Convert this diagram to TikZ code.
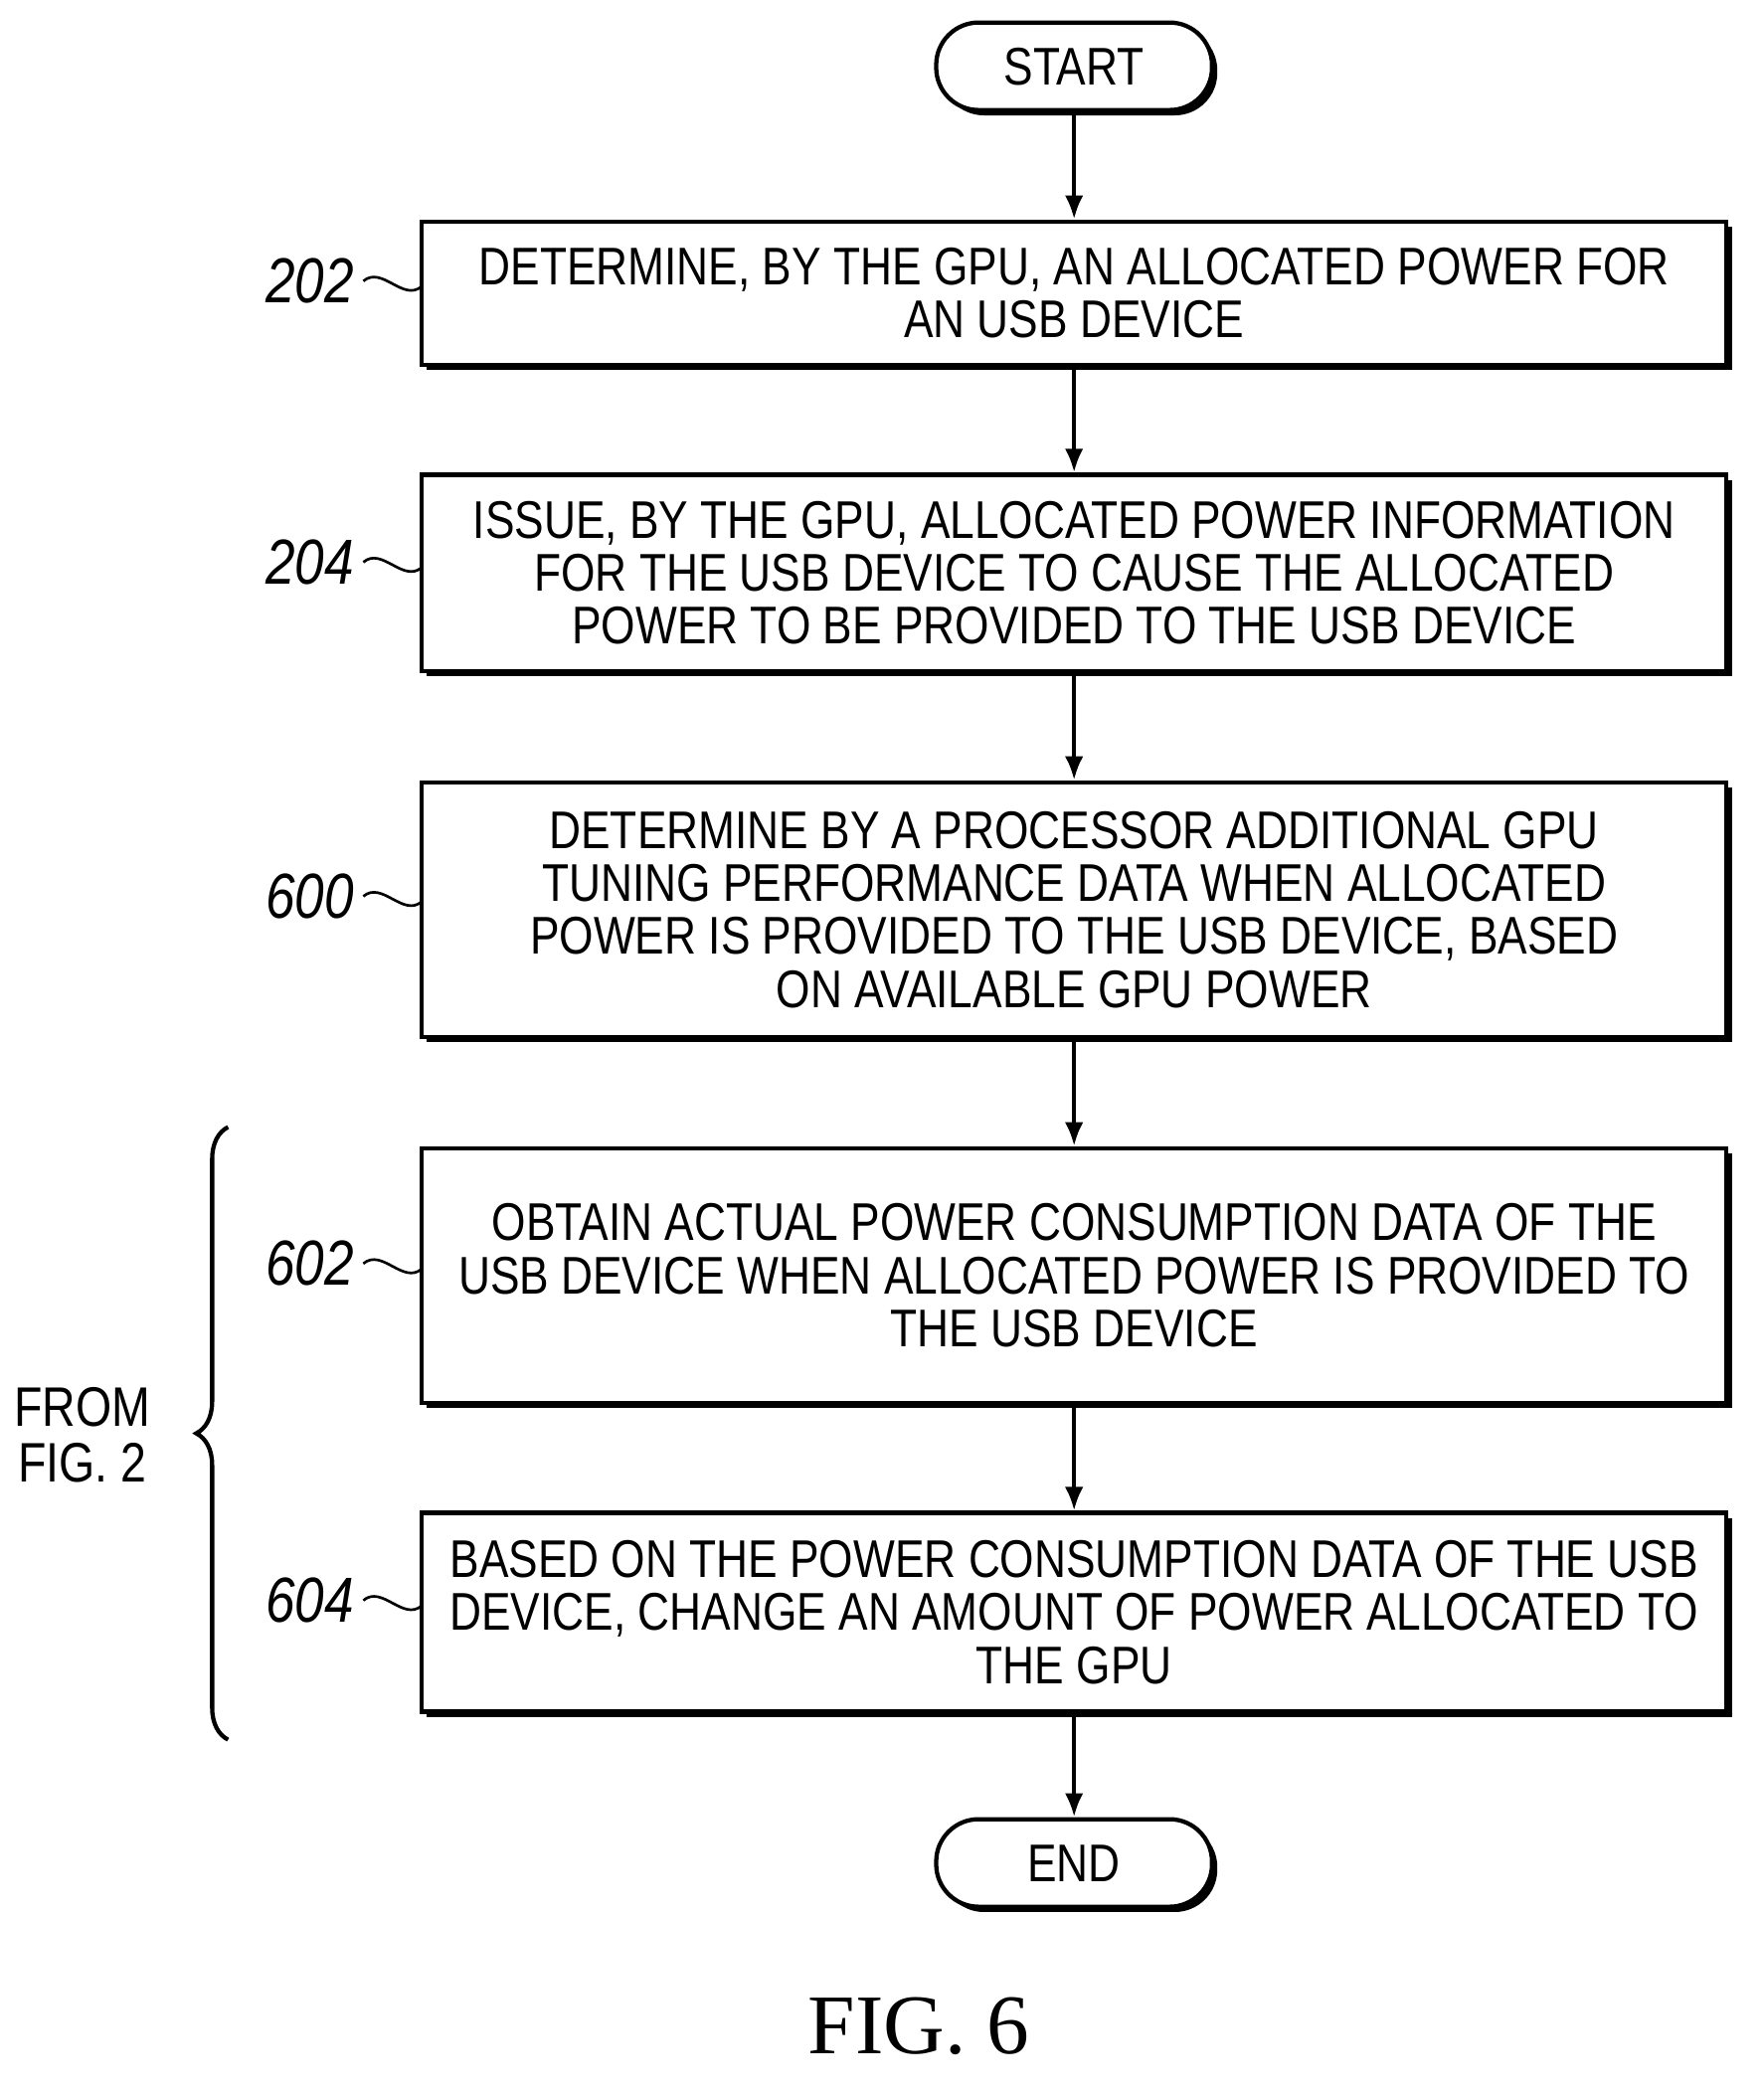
\documentclass[tikz,border=0pt]{standalone}
\usepackage{fontspec}
\setmainfont{Liberation Sans}[FakeStretch=0.83]
\newfontfamily\figfont{Liberation Serif}
\usetikzlibrary{shadows}
\usetikzlibrary{arrows.meta}
\usetikzlibrary{decorations.pathreplacing}
\tikzset{
  box/.style={draw, line width=1.6pt, fill=white, minimum width=492pt, align=center,
    font=\fontsize{20}{20}\selectfont,
    drop shadow={shadow xshift=2pt, shadow yshift=-2pt, opacity=1, fill=black}},
  term/.style={box, rounded corners=16pt, minimum width=104pt, minimum height=33pt},
  flow/.style={line width=1.6pt, -{Latex[length=9pt,width=7pt]}},
  ref/.style={font=\fontsize{24}{24}\selectfont\itshape, anchor=east}
}
\begin{document}
\begin{tikzpicture}[x=0.5pt,y=-0.5pt]
\useasboundingbox (0,0) rectangle (1330,1577);
% terminals
\node[term] (start) at (810,50) {START};
\node[term] (end) at (810,1405) {END};
% steps
\node[box, minimum height=54pt] (s202) at (810,221) {DETERMINE, BY THE GPU, AN ALLOCATED POWER FOR\\AN USB DEVICE};
\node[box, minimum height=74pt] (s204) at (810,432) {ISSUE, BY THE GPU, ALLOCATED POWER INFORMATION\\FOR THE USB DEVICE TO CAUSE THE ALLOCATED\\POWER TO BE PROVIDED TO THE USB DEVICE};
\node[box, minimum height=96pt] (s600) at (810,686) {DETERMINE BY A PROCESSOR ADDITIONAL GPU\\TUNING PERFORMANCE DATA WHEN ALLOCATED\\POWER IS PROVIDED TO THE USB DEVICE, BASED\\ON AVAILABLE GPU POWER};
\node[box, minimum height=96pt] (s602) at (810,962) {OBTAIN ACTUAL POWER CONSUMPTION DATA OF THE\\USB DEVICE WHEN ALLOCATED POWER IS PROVIDED TO\\THE USB DEVICE};
\node[box, minimum height=75pt] (s604) at (810,1216) {BASED ON THE POWER CONSUMPTION DATA OF THE USB\\DEVICE, CHANGE AN AMOUNT OF POWER ALLOCATED TO\\THE GPU};
% arrows
\draw[flow] (start) -- (s202);
\draw[flow] (s202) -- (s204);
\draw[flow] (s204) -- (s600);
\draw[flow] (s600) -- (s602);
\draw[flow] (s602) -- (s604);
\draw[flow] (s604) -- (end);
% reference numerals
\foreach \n/\y in {202/212, 204/424, 600/676, 602/953, 604/1207}{
  \node[ref] (l\n) at (274,\y) {\n};
  \draw[line width=1pt] (l\n.east) .. controls +(14,-12) and +(-14,12) .. (318,\y+4);
}
% brace
\draw[line width=1.6pt, decoration={brace, amplitude=12pt}, decorate] (172,1312) -- (172,850);
\node[font=\fontsize{21}{21}\selectfont, align=center] (from) at (62,1082) {FROM\\FIG. 2};
\node[font=\figfont\fontsize{32}{32}\selectfont] (fig) at (693,1528) {FIG. 6};
\end{tikzpicture}
\end{document}
